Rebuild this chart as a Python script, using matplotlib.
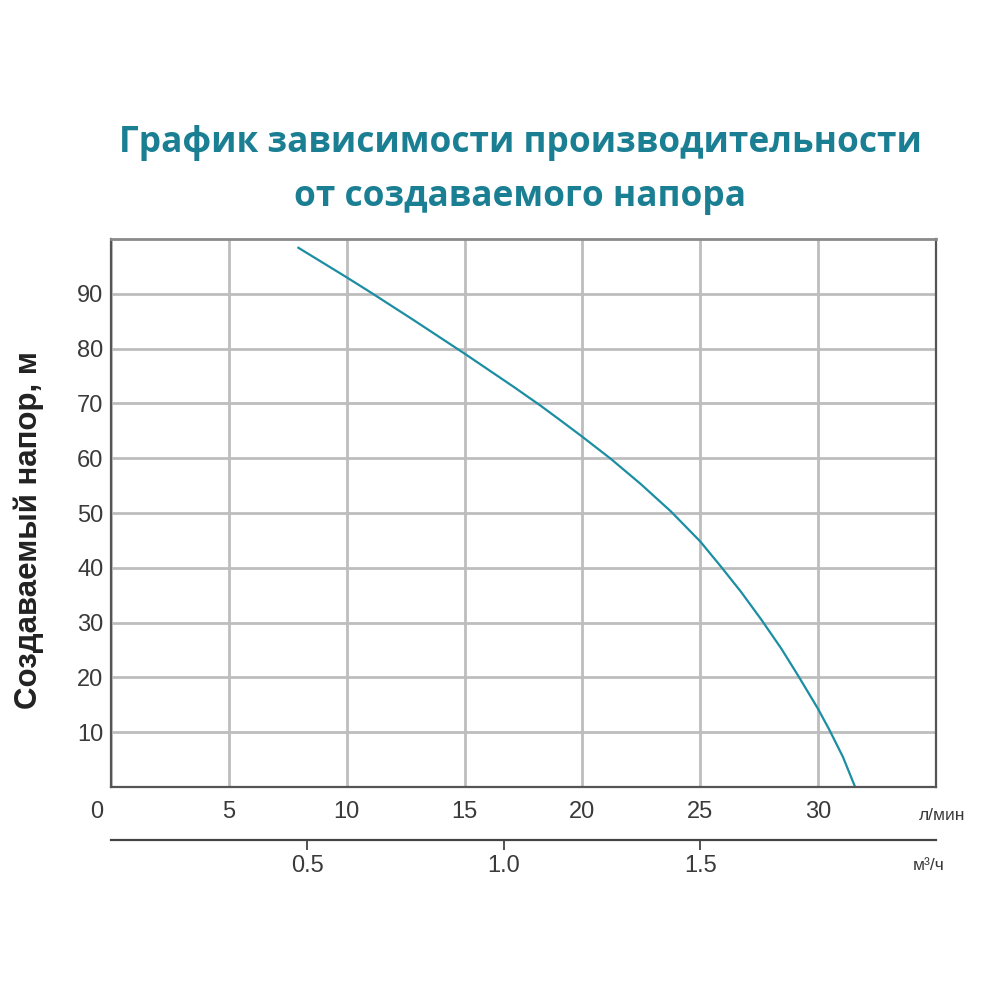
import matplotlib
matplotlib.use("Agg")
import matplotlib.pyplot as plt
from matplotlib.transforms import ScaledTranslation

# Data
flow_lpm = [7.95, 10.0, 11.0, 12.84, 14.96, 17.09, 18.22, 19.07, 20.0, 21.2, 22.47,
            23.75, 25.0, 25.88, 26.73, 27.58, 28.43, 29.14, 29.99, 30.48, 31.05, 31.55]
head_m = [98.4, 93.0, 90.3, 85.2, 79.2, 73.0, 69.6, 66.9, 63.9, 59.9, 55.3,
          50.3, 44.8, 40.2, 35.6, 30.6, 25.3, 20.4, 14.3, 10.4, 5.5, 0.2]
x_ticks = [0, 5, 10, 15, 20, 25, 30]
y_ticks = [10, 20, 30, 40, 50, 60, 70, 80, 90]
m3h_ticks = [0.5, 1.0, 1.5]
m3h_labels = ["0.5", "1.0", "1.5"]

title = "График зависимости производительности\nот создаваемого напора"
ylabel = "Создаваемый напор, м"
teal = "#1b7f93"
sans = ["Liberation Sans", "DejaVu Sans"]

fig = plt.figure(figsize=(10, 10), dpi=100)
ax = fig.add_axes([0.111, 0.213, 0.825, 0.548])
ax.plot(flow_lpm, head_m, color="#1b8ea3", lw=1.6, solid_joinstyle="round")
ax.set_xlim(0, 35)
ax.set_ylim(0, 100)
ax.set_xticks(x_ticks)
ax.set_yticks(y_ticks)
ax.grid(True, color="#bdbdbd", lw=2.0)
ax.set_axisbelow(True)
for s in ["left", "bottom", "right"]:
    ax.spines[s].set_color("#555555")
    ax.spines[s].set_linewidth(1.6)
ax.spines["top"].set_color("#8a8a8a")
ax.spines["top"].set_linewidth(2.0)
ax.tick_params(axis="both", length=0)
ax.tick_params(axis="x", pad=10)
ax.tick_params(axis="y", pad=5.5)
for lab in ax.get_xticklabels():
    lab.set_fontfamily(sans)
    lab.set_fontsize(17)
    lab.set_color("#3a3a3a")
for lab in ax.get_yticklabels():
    lab.set_fontfamily(sans)
    lab.set_fontsize(17)
    lab.set_color("#3a3a3a")
lbls = ax.get_xticklabels()
lbls[0].set_transform(lbls[0].get_transform() + ScaledTranslation(-0.14, 0, fig.dpi_scale_trans))

ax.set_ylabel(ylabel, fontsize=22.5, fontweight="bold", color="#222222", fontfamily=sans)
ax.yaxis.set_label_coords(-0.081, 0.469)

# secondary m3/h axis
sec = ax.secondary_xaxis("bottom", functions=(lambda q: q * 0.06, lambda m: m / 0.06))
sec.spines["bottom"].set_position(("outward", 38))
sec.spines["bottom"].set_color("#444444")
sec.spines["bottom"].set_linewidth(1.6)
sec.set_xticks(m3h_ticks)
sec.set_xticklabels(m3h_labels)
sec.tick_params(axis="x", direction="out", length=7, width=1.3, color="#444444", pad=4)
for lab in sec.get_xticklabels():
    lab.set_fontfamily(sans)
    lab.set_fontsize(17)
    lab.set_color("#3a3a3a")

fig.text(0.942, 0.184, "л/мин", fontsize=12.5, color="#3a3a3a", ha="center", va="center",
         fontfamily=sans)
fig.text(0.929, 0.134, "м³/ч", fontsize=12.5, color="#3a3a3a", ha="center", va="center",
         fontfamily=sans)

fig.text(0.52, 0.830, title, fontsize=25.4, fontweight="bold", color=teal, ha="center", va="center",
         linespacing=1.63, fontfamily=["Open Sans", "DejaVu Sans"])

fig.savefig("out.png", dpi=100, facecolor="white")
